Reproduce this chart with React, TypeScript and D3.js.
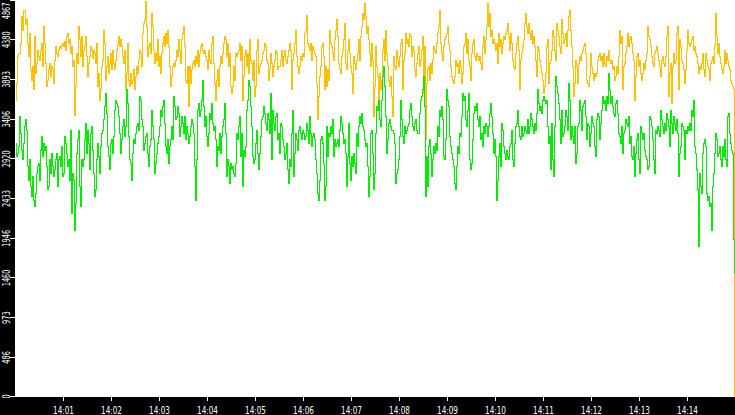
import React from "react";
import * as d3 from "d3";

const START = new Date(2024, 0, 1, 14, 0, 0);
const END = new Date(2024, 0, 1, 14, 15, 0);
const SAMPLE_MS = 1250;
const Y_MAX = 4867;

const yTickValues = [0, 486, 973, 1460, 1946, 2433, 2920, 3406, 3893, 4380, 4867];
const xTickLabels = ["14:01", "14:02", "14:03", "14:04", "14:05", "14:06", "14:07", "14:08", "14:09", "14:10", "14:11", "14:12", "14:13", "14:14"];

const orangeSeries = [
  3641,3845,4172,4213,4213,4336,4663,4499,4744,4744,4561,4622,4336,4172,4458,4009,3886,4050,3764,4417,
  3968,4091,4254,4172,4131,4254,4336,4050,4540,4336,4091,3804,3886,4009,4091,3927,4050,4009,3845,4131,
  4295,4213,4172,4254,4295,4274,4315,4336,4295,4356,4254,4417,4458,4336,4377,4213,4295,4050,4131,3457,
  3804,4213,4091,4540,4377,4172,4417,4050,4254,4295,4417,4172,3927,4091,4172,4295,4254,4152,4254,4213,
  4091,4336,3804,3968,3641,3764,4050,4131,4499,4336,3886,4050,4172,3968,4091,4213,4009,4254,4091,4009,
  4131,4254,4336,4417,4295,4377,4295,4172,4091,4254,3764,3968,4336,3886,3804,3968,3845,3886,4009,3764,
  3927,4050,3968,4131,4254,4213,4050,4458,4581,4622,4847,4540,4172,4295,4336,4213,4704,4540,4254,4091,
  4213,4131,4377,4050,4172,3968,4213,4336,4417,4295,4458,4336,4499,4295,4050,3804,3927,4050,4091,4050,
  4131,4254,4172,4377,4254,4091,4377,4458,4540,4295,3886,3845,4050,3559,4050,3845,4009,4091,4131,4050,
  4172,4091,4254,4050,4213,4295,4336,4254,4213,4254,4172,4131,4009,4254,4131,4091,4336,4417,4091,3845,
  3641,3886,4009,3804,4050,4172,4091,4213,4336,4417,4377,4172,4336,4050,4213,3804,3723,3804,4050,3886,
  4213,4172,4213,4254,4336,4131,4295,3641,3927,4172,4254,4050,4213,3968,4377,4131,4091,3886,4131,3682,
  3804,4254,4377,3968,4050,4091,4131,4213,4254,4336,4295,4131,4091,3886,4009,4213,4091,3927,4050,4131,
  4254,4213,4009,4050,4050,4131,4254,4050,4172,4254,4131,4091,4172,4254,4336,4254,3764,4131,4213,4336,
  4499,4172,4050,3968,4050,4172,4131,4213,4172,4458,4499,4683,4336,4295,4254,4336,4131,4295,4254,4213,
  4172,3845,3396,3682,3927,4050,4295,4336,4172,3764,4050,3804,4009,3886,4499,4336,4295,4213,4131,4377,
  4499,4622,4417,4091,4009,3968,4172,4254,4377,4581,4091,4009,4254,4377,4213,4050,3968,3723,4172,4091,
  4009,4131,4213,4377,4131,4417,4540,4704,4622,4826,4663,4458,4540,4377,4213,4050,4336,4131,3437,3804,
  4295,4050,3927,3641,3968,3764,3886,4254,4377,4131,4499,4213,4050,3886,3804,3927,3682,3437,4172,4050,
  4009,4254,4131,4050,4172,4336,4377,3764,4131,4213,4458,4336,4377,4295,4458,4417,4172,4295,4254,4009,
  3927,4091,4213,4295,4050,4131,4254,4417,3723,4295,3151,3845,4009,4050,3886,4091,3968,4131,4295,4254,
  4213,4336,4458,4540,4744,4336,4213,4131,4295,4377,4417,4458,4540,4336,4254,4050,3927,3886,3845,3927,
  4131,4050,4091,3968,4131,4050,3845,3968,4295,4336,4458,4213,4377,4131,4050,3886,4213,4336,4377,4172,
  4131,4213,4172,4131,4172,4091,4009,4295,4417,4213,4377,4540,4826,4540,4704,4417,4499,4336,4377,4336,
  4254,4336,4091,4458,4295,4377,4213,4336,4417,4377,4458,4499,4581,4417,4254,4458,4336,4131,4050,4009,
  4213,4336,4417,4254,3764,4131,4213,4295,4377,4581,4704,4540,4458,4581,4458,4377,4499,4336,4417,4295,
  4131,3927,4295,4254,4131,4050,3968,3886,3723,3804,3968,4295,4377,3845,4091,4131,4254,4499,4417,4254,
  4131,4581,4499,4417,4295,4213,4622,4458,4336,4377,4458,4295,4499,4663,4744,4499,4295,4050,3682,3845,
  4131,4050,3845,4091,4172,4131,4213,4254,4295,4336,4213,3886,3845,3804,3927,4213,4050,3968,3886,3968,
  3927,3968,4131,4172,4213,4131,4172,4050,4213,4091,4050,4172,4131,4254,4131,4091,4131,4009,4050,3886,
  3927,4050,3968,4172,4499,4336,4417,3764,4050,4091,4213,4295,4458,4295,4377,4417,4336,4213,4131,3641,
  3927,4172,4213,4050,4131,3968,3886,3968,4091,4009,4131,4213,4540,4417,4377,4295,4172,4091,4050,4213,
  4254,4295,4213,4131,4050,3927,4131,4172,4091,4050,4172,4417,4540,3682,3968,4091,3600,4050,4213,4091,
  4131,4458,4540,3764,4377,4295,4131,4091,4009,3845,4009,4254,4499,4336,4295,4336,4377,4417,4254,4295,
  4213,4172,4091,3968,4050,4009,4091,4213,4009,3927,4213,4131,4050,4009,3886,4091,4131,4172,4091,4295,
  4704,4417,4213,4336,4172,4091,4009,3968,4050,4254,4091,4213,4131,4050,4009,3886,3845,3804,3764,0
];

const greenSeries = [
  3110,2946,2987,3069,3437,3232,3028,2906,3110,3314,3396,3273,2824,2660,2906,2579,2456,2701,2415,2333,
  2497,2742,2824,2865,2660,3028,3192,2946,3110,3028,3069,2824,2538,2579,2906,2742,2987,2824,2701,2783,
  2906,2987,2579,2906,2946,2824,3069,2701,2742,3192,3110,2987,2824,2906,2660,3273,2252,2742,2660,2047,
  2374,2987,3151,3273,2579,2333,2906,2824,2906,3151,3355,2987,3273,3110,2783,3232,3314,3028,2742,2456,
  2538,2906,3110,2946,2742,3069,3232,3273,3396,3559,3723,3478,3069,2946,2783,3110,3151,2987,3192,3518,
  3641,3600,3559,3437,3232,2987,3151,3314,3396,3192,3314,3764,3600,3192,2906,2865,2660,2987,3151,3110,
  3232,3314,3355,3273,3682,3641,3396,3314,3028,3110,3192,3232,2987,2824,3069,3151,3518,3314,3151,2742,
  2865,2987,3110,3192,3314,3518,3437,3559,3641,3355,3069,2987,3151,2865,3069,3151,3314,3151,3682,3559,
  3396,3437,3559,3478,3192,3314,3437,3355,3232,3437,3151,3314,3232,3110,3192,3314,3396,3355,3232,2824,
  2415,2906,3518,3600,3437,3518,3641,3886,3559,3314,3437,3192,3069,3232,3478,3396,3600,3355,3273,3314,
  3151,2824,3069,3028,3232,2987,3192,3314,3396,3600,3232,2701,2906,2824,2619,2865,2783,2824,2742,2701,
  2865,3232,3151,3314,3437,2946,3232,2579,3028,2946,3069,3518,3641,3886,3804,3559,3314,2946,2865,2906,
  3110,3273,2987,2783,2987,3192,3396,3437,3559,3478,3355,3273,3478,3396,3232,3723,2906,3518,3355,3273,
  3437,3478,3151,3232,2987,3355,3314,3151,3069,2906,2987,3110,2783,2619,2906,2824,3232,3518,2701,2987,
  3232,3151,3028,3273,3314,3232,3151,3273,3232,3151,3192,3355,3273,3110,3437,3232,3069,3192,3232,3151,
  2906,2742,2497,2415,2660,3151,3192,3110,2865,2415,2579,3314,2946,3232,3192,3314,3232,3396,2946,3151,
  3069,3110,3151,3069,3273,3437,3355,3232,3110,3151,2987,2579,2946,3355,2865,2660,2946,2824,2987,2865,
  2742,3232,3069,3314,3437,3355,3478,3314,3273,3151,3069,3110,2824,2456,2701,3232,3273,2987,2538,2742,
  3232,3559,3518,3641,3396,3314,3641,3927,4050,3804,3437,2987,3151,3355,3396,3314,3273,3273,3232,3110,
  2619,2742,2783,2906,3192,3641,3396,3192,3110,3314,3232,3273,3314,3355,3518,3600,3437,3314,3273,3355,
  3396,3273,3232,3232,3478,3641,3682,3764,3927,3559,2456,2946,2579,3069,3151,2987,2701,2906,3069,2987,
  3110,3028,3314,3192,3518,3437,3559,3396,2946,2906,3151,3764,3641,3559,3192,3069,2987,2906,2824,2619,
  2538,2824,3069,2987,3232,3192,3437,3723,3641,3682,3396,3314,3518,3723,2906,2783,2865,3151,3478,3559,
  3518,3600,3396,3314,3437,3151,3232,3069,3314,3232,3355,3314,3192,3314,3478,3600,3437,3232,2987,3151,
  2946,2415,2660,2946,3110,2824,3355,3273,3069,2987,2906,3028,2946,2906,3069,3110,3273,2906,2824,3110,
  3314,3355,3518,3314,3192,3151,3314,3192,3232,3314,3273,3232,3396,3232,3314,3478,3396,3314,3232,3355,
  3273,3478,3764,3600,3518,3559,3478,3641,3682,3641,3600,3641,3314,3110,3192,2783,3355,2906,2701,3314,
  3927,3804,3723,3600,3396,3110,3518,3192,3232,3314,3518,3437,3273,3845,3641,3151,3314,3192,3110,3314,
  2865,2987,3314,3355,3641,3518,3273,3559,3600,3641,3437,3151,3355,3314,3069,3232,3437,3355,3314,3069,
  2946,3396,3478,3437,3151,3355,3518,3682,3600,3641,3518,3682,3600,3968,3764,3600,3682,3559,3478,3437,
  3600,3641,3478,3232,3192,3110,3314,2987,3232,3273,3396,3355,3314,3437,3110,3192,2946,2906,3069,2701,
  2987,3151,3232,2906,2742,3314,3232,3151,3232,3028,2946,2906,2783,2824,3437,3396,3314,3151,2906,2742,
  3273,3232,3314,3273,3192,3518,3396,3314,3232,3355,3273,3478,3396,3314,3069,3518,3355,3232,3437,3355,
  3273,3396,3232,2701,2987,3069,3355,3314,3273,2906,3273,3232,3314,3273,3355,3273,3518,3437,3641,3069,
  2987,2783,2538,1843,2742,2579,2497,2987,3110,3151,3069,2497,2415,2456,2333,2374,2047,2579,2742,2987,
  3232,3151,2946,2987,3069,2906,2824,3069,2946,3151,2906,2824,3437,3478,3232,3110,3028,2987,1925,1508
];

const sampleTime = (i: number) => new Date(START.getTime() + i * SAMPLE_MS);
const parseLabel = (s: string) => {
  const [h, m] = s.split(":").map(Number);
  return new Date(2024, 0, 1, h, m, 0);
};

export default function App() {
  const W = 735;
  const H = 415;
  const left = 15;
  const bottom = 397;

  const x = d3.scaleTime().domain([START, END]).range([left, W]);
  const y = d3.scaleLinear().domain([0, Y_MAX]).range([bottom, 0]);

  const line = d3
    .line<number>()
    .x((_, i) => x(sampleTime(i)) + 0.5)
    .y((d) => y(d))
    .curve(d3.curveStepAfter);

  const charW = 4.2;
  const clamp = (v: number, lo: number, hi: number) => Math.max(lo, Math.min(hi, v));

  return (
    <>
      <style>{`html,body{margin:0;padding:0;background:#fff;} svg{display:block;}`}</style>
      <svg width={W} height={H} viewBox={`0 0 ${W} ${H}`}>
        <rect x={0} y={0} width={W} height={H} fill="#ffffff" />
        <g shapeRendering="crispEdges">
          <path d={line(orangeSeries) || ""} fill="none" stroke="#ffc000" strokeWidth={1} />
          <path d={line(greenSeries) || ""} fill="none" stroke="#00ee00" strokeWidth={1} />
        </g>
        <rect x={0} y={0} width={left} height={H} fill="#000" />
        <rect x={0} y={bottom} width={W} height={H - bottom} fill="#000" />
        <g shapeRendering="crispEdges">
          {yTickValues.map((v) => (
            <line key={"yt" + v} x1={10} x2={left} y1={Math.min(y(v), bottom - 0.5)} y2={Math.min(y(v), bottom - 0.5)} stroke="#fff" strokeWidth={1} />
          ))}
          {xTickLabels.map((s) => (
            <line key={"xt" + s} x1={Math.round(x(parseLabel(s))) + 0.5} x2={Math.round(x(parseLabel(s))) + 0.5} y1={bottom} y2={401} stroke="#fff" strokeWidth={1} />
          ))}
        </g>
        {yTickValues.map((v) => {
          const label = String(v);
          const len = label.length * charW;
          const c = clamp(y(v), len / 2 + 2.5, 398.5 - len / 2);
          return (
            <text
              key={"yl" + v}
              transform={`translate(9.5,${c}) rotate(-90)`}
              textAnchor="middle"
              fill="#fff"
              fontFamily="DejaVu Sans"
              fontSize={11}
              textLength={len}
              lengthAdjust="spacingAndGlyphs"
            >
              {label}
            </text>
          );
        })}
        {xTickLabels.map((s) => (
          <text
            key={"xl" + s}
            x={x(parseLabel(s)) + 0.5}
            y={413.5}
            textAnchor="middle"
            fill="#fff"
            fontFamily="DejaVu Sans"
            fontSize={10}
            textLength={s.length * charW}
            lengthAdjust="spacingAndGlyphs"
          >
            {s}
          </text>
        ))}
      </svg>
    </>
  );
}
